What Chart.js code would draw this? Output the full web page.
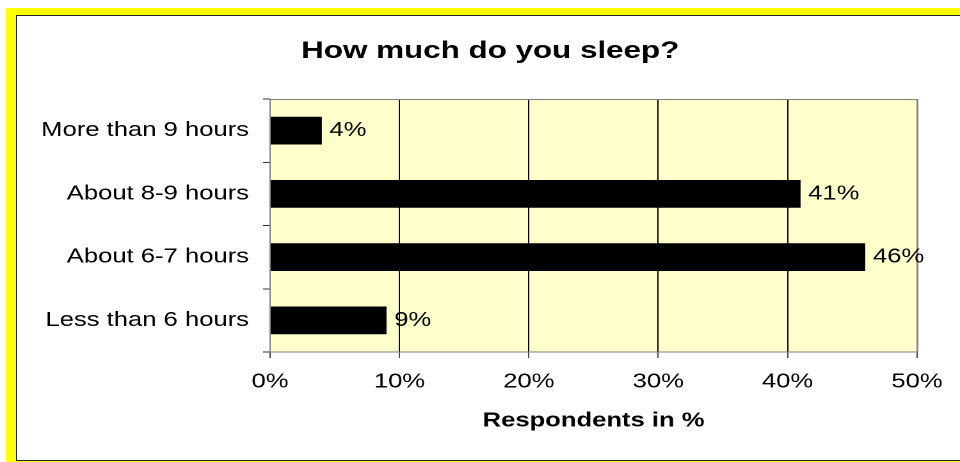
<!DOCTYPE html>
<html>
<head>
<meta charset="utf-8">
<script src="https://cdn.jsdelivr.net/npm/chart.js@4.4.1/dist/chart.umd.min.js"></script>
<style>
  html, body { margin: 0; padding: 0; background: #fff; width: 960px; height: 462px; overflow: hidden; position: relative; }
  #frame { position: absolute; left: 6px; top: 8px; width: 960px; height: 460px; background: #ffff00; }
  #panel { position: absolute; left: 16px; top: 15px; width: 960px; height: 444px; background: #fff; border: 1px solid #222; border-right: none; }
  /* the reference text is wide, so the chart is drawn narrower and stretched */
  #stretch { position: absolute; left: 0; top: 0; width: 750px; height: 462px; transform: scaleX(1.28); transform-origin: 0 0; }
</style>
</head>
<body>
<div id="frame"></div>
<div id="panel"></div>
<div id="stretch"><canvas id="chart" width="750" height="462"></canvas></div>
<script>
// chart data
const categories = ['More than 9 hours', 'About 8-9 hours', 'About 6-7 hours', 'Less than 6 hours'];
const respondents = [4, 41, 46, 9];
const xTicks = [0, 10, 20, 30, 40, 50];
const chartTitle = 'How much do you sleep?';

const FONT = '"Liberation Sans", Arial, sans-serif';

// pale yellow plot area with gray top/right edge
const plotFrame = {
    id: 'plotFrame',
    beforeDraw(chart) {
        const { ctx, chartArea: a } = chart;
        ctx.save();
        ctx.fillStyle = '#ffffcc';
        ctx.fillRect(a.left, a.top, a.right - a.left, a.bottom - a.top);
        ctx.restore();
    },
    beforeDatasetsDraw(chart) {
        const { ctx, chartArea: a } = chart;
        ctx.save();
        ctx.strokeStyle = '#808080';
        ctx.lineWidth = 1;
        ctx.beginPath();
        ctx.moveTo(a.left, a.top + 0.5);
        ctx.lineTo(a.right + 0.5, a.top + 0.5);
        ctx.lineTo(a.right + 0.5, a.bottom);
        ctx.stroke();
        ctx.restore();
    }
};

// title sits a bit right of the canvas centre, like the reference
const titleText = {
    id: 'titleText',
    afterDraw(chart) {
        const { ctx } = chart;
        ctx.save();
        ctx.font = 'bold 24.5px ' + FONT;
        ctx.fillStyle = '#000';
        ctx.textAlign = 'center';
        ctx.textBaseline = 'middle';
        ctx.fillText(chartTitle, 383, 51);
        ctx.restore();
    }
};

// value labels at the end of each bar
const barLabels = {
    id: 'barLabels',
    afterDraw(chart) {
        const { ctx } = chart;
        const meta = chart.getDatasetMeta(0);
        ctx.save();
        ctx.font = '20px ' + FONT;
        ctx.fillStyle = '#000';
        ctx.textAlign = 'left';
        ctx.textBaseline = 'middle';
        meta.data.forEach((bar, i) => {
            ctx.fillText(respondents[i] + '%', bar.x + 6, bar.y);
        });
        ctx.restore();
    }
};

new Chart(document.getElementById('chart'), {
    type: 'bar',
    data: {
        labels: categories,
        datasets: [{
            data: respondents,
            backgroundColor: '#000',
            borderWidth: 0,
            barPercentage: 0.44,
            categoryPercentage: 1
        }]
    },
    options: {
        indexAxis: 'y',
        responsive: false,
        animation: false,
        devicePixelRatio: 2,
        layout: { padding: { left: 0, right: 33.6, top: 99, bottom: 29 } },
        plugins: {
            legend: { display: false },
            tooltip: { enabled: false },
            title: { display: false }
        },
        scales: {
            x: {
                type: 'linear',
                position: 'bottom',
                min: xTicks[0],
                max: xTicks[xTicks.length - 1],
                afterBuildTicks: scale => { scale.ticks = xTicks.map(v => ({ value: v })); },
                afterFit: scale => { scale.height = 81; },
                ticks: {
                    color: '#000',
                    font: { family: FONT, size: 20 },
                    padding: 12,
                    callback: v => v + '%'
                },
                grid: {
                    color: c => (c.index === 0 || c.index === xTicks.length - 1) ? '#808080' : '#000',
                    tickColor: '#444',
                    tickLength: 6,
                    lineWidth: 1
                },
                border: { color: '#808080' },
                title: {
                    display: true,
                    text: 'Respondents in %',
                    color: '#000',
                    font: { family: FONT, size: 20, weight: 'bold' },
                    padding: { top: 0, bottom: 0 }
                }
            },
            y: {
                afterFit: scale => { scale.width = 211; },
                ticks: {
                    color: '#000',
                    font: { family: FONT, size: 20 },
                    padding: 11
                },
                grid: {
                    drawOnChartArea: false,
                    tickColor: '#333',
                    tickLength: 5.5
                },
                border: { color: '#808080' }
            }
        }
    },
    plugins: [plotFrame, titleText, barLabels]
});
</script>
</body>
</html>
